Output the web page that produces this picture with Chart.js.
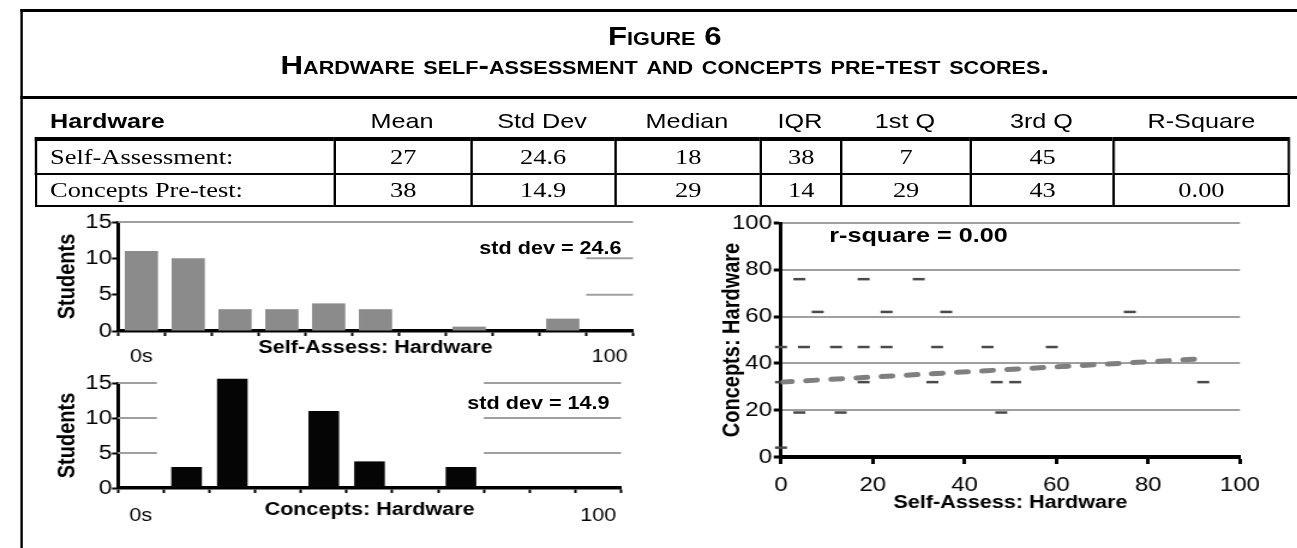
<!DOCTYPE html>
<html lang="en">
<head>
<meta charset="utf-8">
<title>Figure 6 - Hardware self-assessment and concepts pre-test scores</title>
<script src="https://cdn.jsdelivr.net/npm/chart.js@4.4.1/dist/chart.umd.min.js"></script>
<style>
    html, body { margin: 0; padding: 0; background: #fff; }
    body { width: 1297px; height: 548px; overflow: hidden; position: relative; }
    /* the printed figure is stretched about 1.2x sideways: lay out narrow, then stretch */
    #page {
        position: absolute; left: 0; top: 0; width: 1090px; height: 548px;
        transform: scaleX(1.2); transform-origin: 0 0;
        font-family: 'Liberation Sans', Arial, sans-serif; color: #000;
    }
    .abs { position: absolute; }
    #frame { left: 17px; top: 9px; width: 1100px; height: 560px; border-left: 2px solid #000; border-top: 3px solid #000; }
    #rule { left: 17px; top: 96px; width: 1100px; height: 3px; background: #000; }
    .fig-title {
        left: 0; width: 1108px; height: 30px; line-height: 30px; text-align: center;
        font-weight: bold; font-variant: small-caps; font-size: 26px;
    }
    .row { position: absolute; left: 29.2px; display: flex; }
    .cell { box-sizing: border-box; flex: none; text-align: center; white-space: nowrap; overflow: hidden; }
    .cell.first { text-align: left; padding-left: 10.5px; }
    .head .cell { height: 30px; line-height: 30px; font-size: 21px; }
    .head .cell.first { font-weight: bold; padding-left: 12.5px; }
    .r1 .cell, .r2 .cell {
        font-family: 'Liberation Serif', 'Times New Roman', serif; font-size: 22px;
        border-left: 2px solid #000; border-bottom: 2px solid #000;
    }
    .r1 .cell { height: 38px; line-height: 32px; border-top: 4px solid #000; }
    .r2 .cell { height: 32px; line-height: 30px; }
    .r1 .cell.last, .r2 .cell.last { border-right: 2px solid #000; }
    .note { font-weight: bold; white-space: nowrap; }
</style>
</head>
<body>
<div id="page">
    <div id="frame" class="abs"></div>
    <div id="rule" class="abs"></div>
    <div class="abs fig-title" style="top: 21px;">Figure 6</div>
    <div class="abs fig-title" style="top: 50px;">Hardware self-assessment and concepts pre-test scores.</div>

    <div class="abs" style="left: 30px; top: 200px; width: 518px; height: 170px;"><canvas id="selfHist"></canvas></div>
    <div class="abs" style="left: 30px; top: 361px; width: 508px; height: 185px;"><canvas id="conceptHist"></canvas></div>
    <div class="abs" style="left: 590px; top: 200px; width: 470px; height: 320px;"><canvas id="scatter"></canvas></div>

    <div class="abs note" style="left: 318px; width: 200px; top: 237px; line-height: 22px; font-size: 18px; text-align: right;">std dev = 24.6</div>
    <div class="abs note" style="left: 308px; width: 200px; top: 392px; line-height: 22px; font-size: 18px; text-align: right;">std dev = 14.9</div>
    <div class="abs note" style="left: 691px; top: 222px; line-height: 26px; font-size: 21px;">r-square = 0.00</div>
</div>

<script>
// ---- summary table ----
const statColumns = ['Mean', 'Std Dev', 'Median', 'IQR', '1st Q', '3rd Q', 'R-Square'];
const selfStats = ['27', '24.6', '18', '38', '7', '45', ''];
const conceptStats = ['38', '14.9', '29', '14', '29', '43', '0.00'];

// ---- histograms (students per score bin) ----
const binLabels = ['0s', '10s', '20s', '30s', '40s', '50s', '60s', '70s', '80s', '90s', '100'];
const selfAssessCounts = [11, 10, 3, 3, 3.8, 3, 0, 0.6, 0, 1.7, 0];
const conceptsCounts = [0, 3, 15.6, 0, 11, 3.8, 0, 3, 0, 0, 0];
const countTicks = [0, 5, 10, 15];

// ---- scatter: self-assessment vs concepts pre-test ----
const scatterSelf = [4, 18, 30, 8, 23, 36, 76, 0, 5, 12, 18, 23, 34, 45, 59, 0, 18, 33, 47, 51, 92, 4, 13, 48, 0];
const scatterConcepts = [76, 76, 76, 62, 62, 62, 62, 47, 47, 47, 47, 47, 47, 47, 47, 32, 32, 32, 32, 32, 32, 19, 19, 19, 4];
const trendSelf = [0, 92];
const trendConcepts = [32, 42];
const scoreTicks = [0, 20, 40, 60, 80, 100];

// layout only
const colWidths = [249.1, 113.4, 120, 121.6, 66.7, 108.3, 119.2, 147.5];
const gridGray = '#9f9f9f';

function buildRow(cls, top, cells) {
    const row = document.createElement('div');
    row.className = 'row ' + cls;
    row.style.top = top + 'px';
    cells.forEach((text, i) => {
        const c = document.createElement('div');
        c.className = 'cell' + (i === 0 ? ' first' : '') + (i === cells.length - 1 ? ' last' : '');
        c.style.width = colWidths[i] + 'px';
        c.textContent = text;
        row.appendChild(c);
    });
    document.getElementById('page').appendChild(row);
}

buildRow('head', 106, ['Hardware'].concat(statColumns));
buildRow('r1', 137, ['Self-Assessment:'].concat(selfStats));
buildRow('r2', 175, ['Concepts Pre-test:'].concat(conceptStats));

Chart.defaults.font.family = "'Liberation Sans', Arial, sans-serif";
Chart.defaults.color = '#000';
Chart.defaults.animation = false;
Chart.defaults.events = [];
Chart.defaults.plugins.legend.display = false;
Chart.defaults.plugins.tooltip.enabled = false;

// the source only shows pieces of the horizontal grid, so draw them by segment
const partialGrid = {
    id: 'partialGrid',
    beforeDatasetsDraw(chart, args, opts) {
        if (!opts.segments) return;
        const { ctx } = chart;
        const x = chart.scales.x, y = chart.scales.y;
        ctx.save();
        ctx.strokeStyle = opts.color;
        ctx.lineWidth = opts.width;
        opts.segments.forEach(seg => {
            const py = y.getPixelForValue(seg.value);
            ctx.beginPath();
            ctx.moveTo(x.getPixelForValue(seg.from), py);
            ctx.lineTo(x.getPixelForValue(seg.to), py);
            ctx.stroke();
        });
        ctx.restore();
    }
};

function histogram(canvasId, counts, color, cfg) {
    return new Chart(document.getElementById(canvasId), {
        type: 'bar',
        data: {
            labels: binLabels,
            datasets: [{
                data: counts,
                backgroundColor: color,
                barPercentage: cfg.barPercentage,
                categoryPercentage: 1,
                clip: false
            }]
        },
        options: {
            responsive: true,
            maintainAspectRatio: false,
            layout: { padding: cfg.padding },
            scales: {
                x: {
                    grid: { offset: true, drawOnChartArea: false, drawTicks: true, tickLength: 5, tickWidth: 2, tickColor: '#000' },
                    border: { display: true, color: '#000', width: 3.5 },
                    ticks: {
                        autoSkip: false,
                        maxRotation: 0,
                        padding: cfg.xLabelPad,
                        font: { size: 18 },
                        callback: (value, index) => (index === 0 || index === binLabels.length - 1) ? binLabels[index] : ''
                    },
                    // title sits a little above the bin labels, as in the source
                    title: { display: true, text: cfg.xTitle, font: { size: 18, weight: 'bold' }, padding: { top: 0, bottom: cfg.xTitlePad } },
                    afterFit: s => { s.height = cfg.xHeight; }
                },
                y: {
                    min: 0,
                    max: 15,
                    afterBuildTicks: s => { s.ticks = countTicks.map(v => ({ value: v })); },
                    ticks: { padding: 0, font: { size: 20 } },
                    grid: { drawOnChartArea: false, drawTicks: true, tickLength: 5, tickWidth: 2, tickColor: '#000' },
                    border: { display: true, color: '#000', width: 3 },
                    title: { display: true, text: 'Students', font: { size: 20, weight: 'bold' }, padding: { top: 14.7, bottom: 0 } },
                    afterFit: s => { s.width = 68.3; }
                }
            },
            plugins: {
                partialGrid: { color: gridGray, width: 2, segments: cfg.gridSegments }
            }
        },
        plugins: [partialGrid]
    });
}

histogram('selfHist', selfAssessCounts, '#8b8b8b', {
    barPercentage: 0.71,
    padding: { top: 22, right: 20.5, bottom: 1, left: 0 },
    xLabelPad: 10.2,
    xHeight: 38,
    xTitlePad: 10.2,
    xTitle: 'Self-Assess: Hardware',
    gridSegments: [
        { value: 15, from: -0.5, to: 10.5 },
        { value: 10, from: 9.5, to: 10.5 },
        { value: 5, from: 9.5, to: 10.5 }
    ]
});

histogram('conceptHist', conceptsCounts, '#050505', {
    barPercentage: 0.67,
    padding: { top: 22, right: 20.5, bottom: 18, left: 0 },
    xLabelPad: 12.2,
    xHeight: 40,
    xTitlePad: 7.2,
    xTitle: 'Concepts: Hardware',
    gridSegments: [
        { value: 15, from: -0.5, to: 0.35 },
        { value: 10, from: -0.5, to: 0.35 },
        { value: 5, from: -0.5, to: 0.35 },
        { value: 15, from: 7.5, to: 10.5 },
        { value: 10, from: 7.5, to: 10.5 },
        { value: 5, from: 7.5, to: 10.5 }
    ]
});

new Chart(document.getElementById('scatter'), {
    type: 'scatter',
    data: {
        datasets: [
            {
                // linear trend line, drawn on top of the points
                type: 'line',
                data: trendSelf.map((x, i) => ({ x: x, y: trendConcepts[i] })),
                borderColor: '#7f7f7f',
                borderWidth: 5,
                borderDash: [9, 12],
                borderCapStyle: 'round',
                pointRadius: 0,
                fill: false
            },
            {
                data: scatterSelf.map((x, i) => ({ x: x, y: scatterConcepts[i] })),
                pointStyle: 'line',
                pointRadius: 5,
                pointBorderWidth: 2.5,
                borderColor: '#4a4a4a',
                pointBorderColor: '#4a4a4a',
                backgroundColor: '#4a4a4a',
                clip: false
            }
        ]
    },
    options: {
        responsive: true,
        maintainAspectRatio: false,
        layout: { padding: { top: 23, right: 26.7, bottom: 6.2, left: 0 } },
        scales: {
            x: {
                type: 'linear',
                min: 0,
                max: 100,
                afterBuildTicks: s => { s.ticks = scoreTicks.map(v => ({ value: v })); },
                grid: { drawOnChartArea: false, drawTicks: true, tickLength: 7, tickWidth: 3, tickColor: '#000' },
                border: { display: true, color: '#000', width: 4 },
                ticks: { padding: 9, font: { size: 20 } },
                title: { display: true, text: 'Self-Assess: Hardware', font: { size: 18, weight: 'bold' }, padding: 0 },
                afterFit: s => { s.height = 56.8; }
            },
            y: {
                min: 0,
                max: 100,
                afterBuildTicks: s => { s.ticks = scoreTicks.map(v => ({ value: v })); },
                grid: { color: gridGray, lineWidth: 2, drawTicks: true, tickLength: 6, tickWidth: 3, tickColor: '#000' },
                border: { display: true, color: '#000', width: 3 },
                ticks: { padding: 1.5, font: { size: 20 } },
                title: { display: true, text: 'Concepts: Hardware', font: { size: 20, weight: 'bold' }, padding: { top: 8.8, bottom: 0 } },
                afterFit: s => { s.width = 60.8; }
            }
        }
    }
});
</script>
</body>
</html>
